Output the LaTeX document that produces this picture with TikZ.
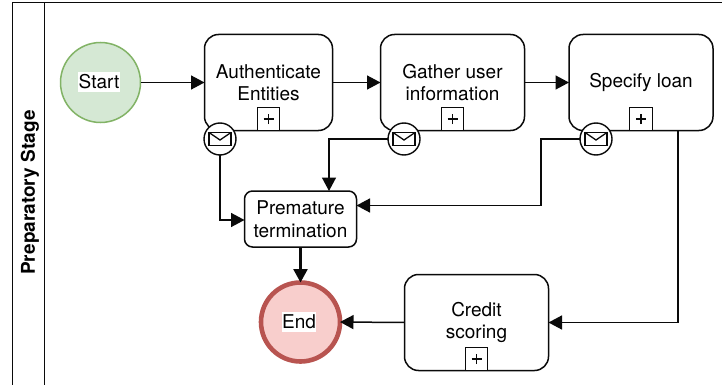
\documentclass[tikz,border=0pt]{standalone}
\usepackage{fontspec}
\setmainfont{TeX Gyre Heros}
\usetikzlibrary{arrows.meta,calc}
\definecolor{linek}{HTML}{0A0A0A}
\tikzset{
  every node/.style={outer sep=0pt,inner sep=0pt,font=\fontsize{19}{22.5}\selectfont,align=center,text=black},
  task/.style={draw=linek,line width=1.5pt,rounded corners=14pt,fill=white,minimum width=#1,minimum height=96pt},
  task/.default=144pt,
  smalltask/.style={draw=linek,line width=1.5pt,rounded corners=8pt,fill=white,minimum width=112pt,minimum height=56pt},
  plusbox/.style={draw=linek,line width=1.3pt,fill=white,minimum size=22.5pt,
    path picture={\draw[line width=1.2pt,linek] ($(path picture bounding box.center)+(-5pt,0)$) -- ($(path picture bounding box.center)+(5pt,0)$) ($(path picture bounding box.center)+(0,-5pt)$) -- ($(path picture bounding box.center)+(0,5pt)$);}},
  msg/.style={draw=linek,line width=1.4pt,circle,fill=white,minimum size=32pt,
    path picture={\draw[line width=1.3pt,linek] ($(path picture bounding box.center)+(-11pt,-6.5pt)$) rectangle ($(path picture bounding box.center)+(11pt,6.5pt)$);
      \draw[line width=1.3pt,linek] ($(path picture bounding box.center)+(-11pt,6.5pt)$) -- ($(path picture bounding box.center)+(0,-1pt)$) -- ($(path picture bounding box.center)+(11pt,6.5pt)$);}},
  startev/.style={draw={rgb,255:red,130;green,179;blue,102},fill={rgb,255:red,213;green,232;blue,212},line width=1.5pt,circle,minimum size=80pt},
  endev/.style={draw={rgb,255:red,184;green,84;blue,80},fill={rgb,255:red,248;green,206;blue,204},line width=4.6pt,circle,minimum size=79pt},
  lbl/.style={fill=white,inner xsep=0.5pt,inner ysep=2.5pt},
  flow/.style={draw=linek,line width=1.5pt,-{Triangle[length=13.5pt,width=14pt]}},
  lane/.style={draw=linek,line width=1.5pt},
}
\begin{document}
\begin{tikzpicture}[x=1pt,y=-1pt]
\useasboundingbox (0,0) rectangle (722,385);
\coordinate (laneTL) at (12.5,2.5);
\coordinate (laneTM) at (44.5,2.5);
\coordinate (laneTR) at (722,2.5);
\coordinate (laneBL) at (12.5,385);
\coordinate (laneBM) at (44.5,385);
\draw[lane] (laneBL) -- (laneTL) -- (laneTR);
\draw[lane] (laneTM) -- (laneBM);
\node[rotate=90,font=\fontsize{19}{22}\selectfont\bfseries] (title) at (30,192.5) {Preparatory Stage};

\node[startev] (start) at (100.5,82.5) {};
\node[lbl] (startl) at (99,82) {Start};
\node[task=128pt] (auth) at (268.5,82.5) {Authenticate\\Entities};
\node[task] (gather) at (452.5,82.5) {Gather user\\information};
\node[task] (spec) at (641,82.5) {Specify loan};
\node[smalltask] (prem) at (300.5,219) {Premature\\termination};
\node[endev] (end) at (300.5,322) {};
\node[lbl] (endl) at (299,322) {End};
\node[task] (credit) at (476.5,322.5) {Credit\\scoring};

\node[plusbox] (p1) at (268.5,119) {};
\node[plusbox] (p2) at (452.5,119) {};
\node[plusbox] (p3) at (641,119) {};
\node[plusbox] (p4) at (476.5,359) {};

\node[msg] (m1) at (220,139) {};
\node[msg] (m2) at (404,139) {};
\node[msg] (m3) at (596,139) {};

\coordinate (premtop) at (329,191);
\coordinate (premright) at (356.5,205.5);
\coordinate (premleft) at (244.5,220);
\coordinate (specout) at (678,130.5);
\coordinate (m1out) at (220,155);
\coordinate (m3bend) at (541,205.5);

\draw[flow] (start.east) -- (auth.west);
\draw[flow] (auth.east) -- (gather.west);
\draw[flow] (gather.east) -- (spec.west);
\draw[flow] (m1out) |- (premleft);
\draw[flow] (m2.west) -| (premtop);
\draw[flow] (m3.west) -| (m3bend) -- (premright);
\draw[flow] (specout) |- (credit.east);
\draw[flow,line width=2.5pt] (prem.south) -- (end.north);
\draw[flow] (credit.west) -- (end.east);
\end{tikzpicture}
\end{document}
